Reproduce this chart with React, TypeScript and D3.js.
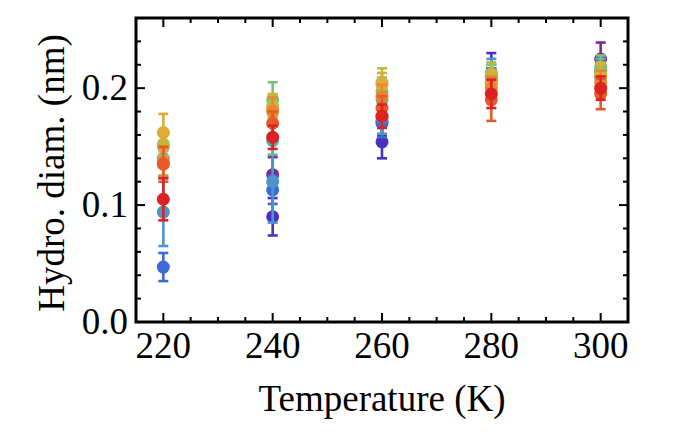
import React from "react";
import * as d3 from "d3";

const temperatures = [220, 240, 260, 280, 300];
const seriesNames = ["s1", "s2", "s3", "s4", "s5", "s6", "s7", "s8", "s9", "s10", "s11"];
const seriesColors = ["#7b2a8e", "#4a30bd", "#3e6ad6", "#4a95c9", "#5bb5a5", "#7cc27a", "#b5bd45", "#dfab35", "#e8862e", "#e65a28", "#dc2223"];
const seriesValues: (number | null)[][] = [
  [null, 0.126, 0.172, 0.205, 0.225],
  [null, 0.090, 0.154, 0.210, 0.210],
  [0.047, 0.113, 0.170, 0.205, 0.212],
  [0.094, 0.120, 0.175, 0.213, 0.215],
  [0.140, 0.155, 0.190, 0.210, 0.215],
  [0.150, 0.190, 0.197, 0.210, 0.218],
  [0.152, 0.185, 0.205, 0.212, 0.212],
  [0.162, 0.182, 0.203, 0.205, 0.210],
  [0.137, 0.180, 0.193, 0.200, 0.205],
  [0.135, 0.170, 0.183, 0.190, 0.195],
  [0.105, 0.158, 0.176, 0.195, 0.200],
];
const seriesErrors: (number | null)[][] = [
  [null, 0.015, 0.012, 0.012, 0.014],
  [null, 0.016, 0.014, 0.020, 0.012],
  [0.012, 0.012, 0.012, 0.012, 0.010],
  [0.029, 0.035, 0.014, 0.012, 0.010],
  [0.015, 0.012, 0.012, 0.010, 0.010],
  [0.010, 0.015, 0.012, 0.010, 0.010],
  [0.010, 0.010, 0.012, 0.010, 0.010],
  [0.016, 0.012, 0.010, 0.010, 0.010],
  [0.012, 0.012, 0.010, 0.010, 0.010],
  [0.015, 0.010, 0.010, 0.018, 0.013],
  [0.018, 0.010, 0.010, 0.012, 0.010],
];
const xTicks = [220, 240, 260, 280, 300];
const yTicks = [0.0, 0.1, 0.2];
const xLabel = "Temperature (K)";
const yLabel = "Hydro. diam. (nm)";

const W = 681, H = 443;
const L = 136, R = 628, T = 18, B = 322;

export default function App() {
  const x = d3.scaleLinear().domain([215, 305]).range([L, R]);
  const y = d3.scaleLinear().domain([0, 0.26]).range([B, T]);
  const xMinor = d3.range(215, 306, 5).filter((v) => !xTicks.includes(v));
  const yMinor = d3.range(0, 0.261, 0.02).filter((v) => !yTicks.some((t) => Math.abs(t - v) < 1e-6));
  const font = "'Liberation Serif', 'DejaVu Serif', serif";
  const capW = 5;
  return (
    <svg width={W} height={H} style={{ position: "absolute", left: 0, top: 0, background: "#fff" }}>
      {seriesNames.map((name, si) => (
        <g key={name} stroke={seriesColors[si]} fill={seriesColors[si]}>
          {temperatures.map((t, ti) => {
            const v = seriesValues[si][ti];
            const e = seriesErrors[si][ti];
            if (v == null || e == null) return null;
            const cx = x(t);
            return (
              <g key={t}>
                <line x1={cx} x2={cx} y1={y(v - e)} y2={y(v + e)} strokeWidth={2.6} />
                <line x1={cx - capW} x2={cx + capW} y1={y(v - e)} y2={y(v - e)} strokeWidth={2.6} />
                <line x1={cx - capW} x2={cx + capW} y1={y(v + e)} y2={y(v + e)} strokeWidth={2.6} />
                <circle cx={cx} cy={y(v)} r={6.5} stroke="none" />
              </g>
            );
          })}
        </g>
      ))}
      <rect x={L} y={T} width={R - L} height={B - T} fill="none" stroke="#000" strokeWidth={3} />
      <g stroke="#000" strokeWidth={2}>
        {xTicks.map((t) => (
          <g key={"xm" + t}>
            <line x1={x(t)} x2={x(t)} y1={B} y2={B - 9} />
            <line x1={x(t)} x2={x(t)} y1={T} y2={T + 9} />
          </g>
        ))}
        {xMinor.map((t) => (
          <g key={"xn" + t}>
            <line x1={x(t)} x2={x(t)} y1={B} y2={B - 5} />
            <line x1={x(t)} x2={x(t)} y1={T} y2={T + 5} />
          </g>
        ))}
        {yTicks.map((t) => (
          <g key={"ym" + t}>
            <line x1={L} x2={L + 9} y1={y(t)} y2={y(t)} />
            <line x1={R} x2={R - 9} y1={y(t)} y2={y(t)} />
          </g>
        ))}
        {yMinor.map((t) => (
          <g key={"yn" + t}>
            <line x1={L} x2={L + 5} y1={y(t)} y2={y(t)} />
            <line x1={R} x2={R - 5} y1={y(t)} y2={y(t)} />
          </g>
        ))}
      </g>
      <g fontFamily={font} fontSize={37} fill="#000">
        {xTicks.map((t) => (
          <text key={"xl" + t} x={x(t)} y={358} textAnchor="middle">{t}</text>
        ))}
        {yTicks.map((t) => (
          <text key={"yl" + t} x={128} y={y(t) + 12} textAnchor="end">{t.toFixed(1)}</text>
        ))}
        <text x={(L + R) / 2} y={411} textAnchor="middle">{xLabel}</text>
        <text transform={`translate(64, ${(T + B) / 2 + 3}) rotate(-90)`} textAnchor="middle">{yLabel}</text>
      </g>
    </svg>
  );
}
